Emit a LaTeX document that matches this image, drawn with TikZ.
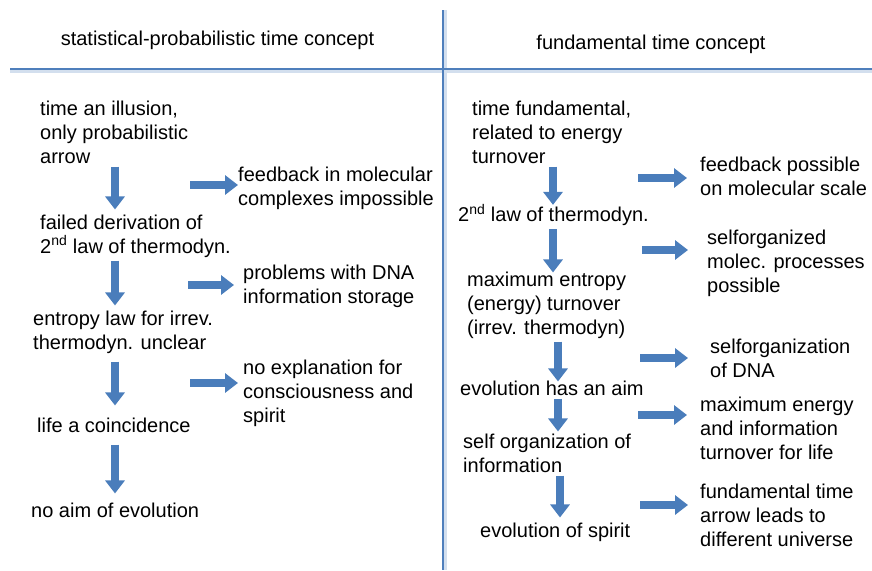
\documentclass[tikz,border=0pt]{standalone}
\usepackage{fontspec}
\setmainfont{Liberation Sans}
\usetikzlibrary{arrows.meta}
\definecolor{ruleblue}{HTML}{4F7FBC}
\definecolor{arrowblue}{HTML}{4A7DBB}
\tikzset{
  txt/.style={anchor=west, inner sep=0pt, align=left, font=\fontsize{20}{24}\selectfont},
  head/.style={inner sep=0pt, font=\fontsize{20}{24}\selectfont},
  darr/.style={arrowblue, line width=7.5pt, -{Triangle[width=19pt,length=13pt]}, shorten <=3pt, shorten >=5pt},
  rarr/.style={arrowblue, line width=7.5pt, -{Triangle[width=19pt,length=13pt]}},
  sep/.style={ruleblue, line width=2pt},
}

\begin{document}
\begin{tikzpicture}[x=1pt, y=-1pt]
  \useasboundingbox (0,0) rectangle (872,570);

  % Dividing lines
  \draw[ruleblue!25, line width=4pt] (10,70.5) -- (872,70.5);
  \draw[ruleblue!25, line width=4pt] (444.5,10) -- (444.5,570);
  \draw[sep] (10,69) -- (872,69);
  \draw[sep] (443,10) -- (443,570);

  % Headings
  \node[head] (lhead) at (217.5, 40) {statistical-probabilistic time concept};
  \node[head] (rhead) at (651, 44) {fundamental time concept};

  % Left column
  \node[txt] (l1) at (40, 132) {time an illusion,\\only probabilistic\\arrow};
  \node[txt] (l2) at (40, 236) {failed derivation of\\2\textsuperscript{nd} law of thermodyn.};
  \node[txt] (l3) at (33, 332) {entropy law for irrev.\\thermodyn. unclear};
  \node[txt] (l4) at (37, 425) {life a coincidence};
  \node[txt] (l5) at (31, 510) {no aim of evolution};

  \node[txt] (lc1) at (238, 188) {feedback in molecular\\complexes impossible};
  \node[txt] (lc2) at (243, 286) {problems with DNA\\information storage};
  \node[txt] (lc3) at (243, 393) {no explanation for\\consciousness and\\spirit};

  % Right column
  \node[txt] (r1) at (472, 132) {time fundamental,\\related to energy\\turnover};
  \node[txt] (r2) at (458, 215) {2\textsuperscript{nd} law of thermodyn.};
  \node[txt] (r3) at (467, 305) {maximum entropy\\(energy) turnover\\(irrev. thermodyn)};
  \node[txt] (r4) at (460, 388) {evolution has an aim};
  \node[txt] (r5) at (463, 453) {self organization of\\information};
  \node[txt] (r6) at (480, 532) {evolution of spirit};

  \node[txt] (rc1) at (700, 176) {feedback possible\\on molecular scale};
  \node[txt] (rc2) at (707, 263) {selforganized\\molec. processes\\possible};
  \node[txt] (rc3) at (710, 358) {selforganization\\of DNA};
  \node[txt] (rc4) at (700, 428) {maximum energy\\and information\\turnover for life};
  \node[txt] (rc5) at (700, 515) {fundamental time\\arrow leads to\\different universe};

  % Arrow columns
  \coordinate (dl) at (115, 0);
  \coordinate (dr) at (553, 0);
  \coordinate (drr) at (558, 0);
  \coordinate (drrr) at (560, 0);

  % Downward arrows
  \draw[darr] (l1.south -| dl) -- (l2.north -| dl);
  \draw[darr] (l2.south -| dl) -- (l3.north -| dl);
  \draw[darr, shorten <=8pt, shorten >=12pt] (l3.south -| dl) -- (l4.north -| dl);
  \draw[darr, shorten <=12pt, shorten >=9pt] (l4.south -| dl) -- (l5.north -| dl);

  \draw[darr, shorten >=-1pt] (r1.south -| dr) -- (r2.north -| dr);
  \draw[darr, shorten >=-1pt] (r2.south -| dr) -- (r3.north -| dr);
  \draw[darr, shorten >=-1pt] (r3.south -| drr) -- (r4.north -| drr);
  \draw[darr, shorten >=2pt] (r4.south -| drr) -- (r5.north -| drr);
  \draw[darr] (r5.south -| drrr) -- (r6.north -| drrr);

  % Sideways arrows
  \draw[rarr] ([yshift=3pt]lc1.west -| 190,0) -- ([yshift=3pt]lc1.west -| 238,0);
  \draw[rarr] ([yshift=1pt]lc2.west -| 188,0) -- ([yshift=1pt]lc2.west -| 234,0);
  \draw[rarr] ([yshift=10pt]lc3.west -| 190,0) -- ([yshift=10pt]lc3.west -| 238,0);

  \draw[rarr] ([yshift=-2pt]rc1.west -| 638,0) -- ([yshift=-2pt]rc1.west -| 687,0);
  \draw[rarr] ([yshift=13pt]rc2.west -| 642,0) -- ([yshift=13pt]rc2.west -| 688,0);
  \draw[rarr] (rc3.west -| 640,0) -- (rc3.west -| 688,0);
  \draw[rarr] ([yshift=13pt]rc4.west -| 638,0) -- ([yshift=13pt]rc4.west -| 687,0);
  \draw[rarr] ([yshift=10pt]rc5.west -| 640,0) -- ([yshift=10pt]rc5.west -| 688,0);
\end{tikzpicture}
\end{document}
